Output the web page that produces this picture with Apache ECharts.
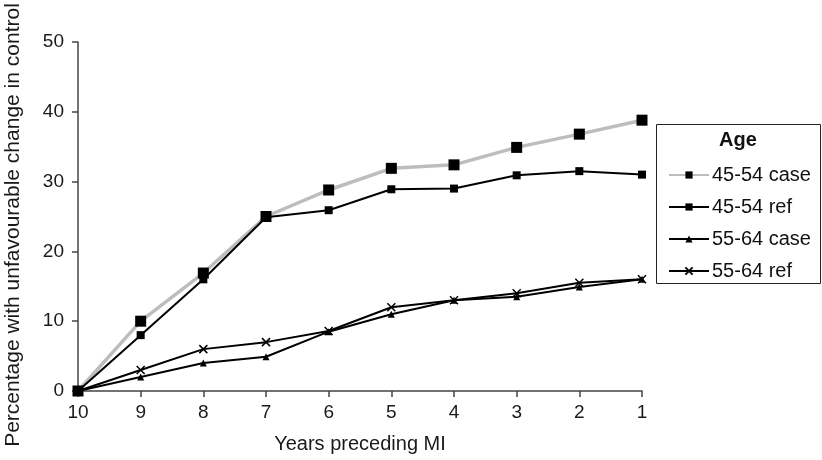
<!DOCTYPE html>
<html>
<head>
<meta charset="utf-8">
<script src="https://cdn.jsdelivr.net/npm/echarts@6/dist/echarts.min.js"></script>
<style>
html, body { margin: 0; padding: 0; background: #fff; }
#chart { width: 822px; height: 460px; }
</style>
</head>
<body>
<div id="chart"></div>
<script>
// Years before myocardial infarction, counted down to 1
const years = ['10', '9', '8', '7', '6', '5', '4', '3', '2', '1'];

// Percentage with an unfavourable change in control, by age group
const case4554 = [0, 10, 16.9, 25, 28.8, 31.9, 32.4, 34.9, 36.8, 38.8];
const ref4554  = [0, 8, 16, 24.9, 25.9, 28.9, 29, 30.9, 31.5, 31];
const case5564 = [0, 2, 4, 4.9, 8.5, 11, 13, 13.5, 14.9, 16];
const ref5564  = [0, 3, 6, 7, 8.6, 12, 13, 14, 15.5, 16];

const seriesNames = ['45-54 case', '45-54 ref', '55-64 case', '55-64 ref'];
const yTicks = { min: 0, max: 50, interval: 10 };

const FONT = 'Liberation Sans, Arial, sans-serif';
const crossPath = 'path://M0,0L10,10M10,0L0,10';

const chart = echarts.init(document.getElementById('chart'));
chart.setOption({
  animation: false,
  backgroundColor: '#fff',
  textStyle: { fontFamily: FONT },
  grid: { left: 78, right: 180, top: 42, bottom: 69, containLabel: false },
  xAxis: {
    type: 'category',
    data: years,
    boundaryGap: false,
    name: 'Years preceding MI',
    nameLocation: 'middle',
    nameGap: 43,
    nameTextStyle: { fontSize: 20, color: '#1a1a1a', fontFamily: FONT },
    axisLine: { lineStyle: { color: '#444', width: 1.5 } },
    axisTick: { show: true, length: 6, alignWithLabel: true, lineStyle: { color: '#444', width: 1.5 } },
    axisLabel: { fontSize: 19, color: '#1a1a1a', margin: 12, fontFamily: FONT },
    splitLine: { show: false }
  },
  yAxis: {
    type: 'value',
    min: yTicks.min,
    max: yTicks.max,
    interval: yTicks.interval,
    axisLine: { show: true, lineStyle: { color: '#444', width: 1.5 } },
    axisTick: { show: true, length: 6, lineStyle: { color: '#444', width: 1.5 } },
    axisLabel: { fontSize: 19, color: '#1a1a1a', margin: 14, fontFamily: FONT },
    splitLine: { show: false }
  },
  legend: {
    orient: 'vertical',
    left: 663,
    top: 160,
    itemWidth: 40,
    itemHeight: 9,
    itemGap: 12,
    textStyle: { fontSize: 20, color: '#111', fontFamily: FONT, padding: [0, 0, 0, -2] },
    data: seriesNames
  },
  graphic: [
    {
      type: 'rect',
      shape: { x: 656.5, y: 124.5, width: 164, height: 159 },
      style: { fill: 'none', stroke: '#222', lineWidth: 1 },
      z: 0
    },
    {
      type: 'text',
      x: 738,
      y: 140,
      style: { text: 'Age', font: 'bold 20px ' + FONT, fill: '#111', align: 'center', verticalAlign: 'middle' }
    },
    {
      // vertical axis title
      type: 'text',
      x: 13,
      y: 225,
      rotation: Math.PI / 2,
      style: {
        text: 'Percentage with unfavourable change in control',
        font: '21px ' + FONT,
        fill: '#1a1a1a',
        align: 'center',
        verticalAlign: 'middle'
      }
    }
  ],
  series: [
    {
      name: seriesNames[0],
      type: 'line',
      data: case4554,
      symbol: 'rect',
      symbolSize: 11,
      lineStyle: { color: '#bdbdbd', width: 3.5 },
      itemStyle: { color: '#000' },
      z: 1
    },
    {
      name: seriesNames[1],
      type: 'line',
      data: ref4554,
      symbol: 'rect',
      symbolSize: 8,
      lineStyle: { color: '#000', width: 2 },
      itemStyle: { color: '#000' },
      z: 2
    },
    {
      name: seriesNames[2],
      type: 'line',
      data: case5564,
      symbol: 'triangle',
      symbolSize: 7,
      lineStyle: { color: '#000', width: 2 },
      itemStyle: { color: '#000' },
      z: 2
    },
    {
      name: seriesNames[3],
      type: 'line',
      data: ref5564,
      symbol: crossPath,
      symbolSize: 8,
      lineStyle: { color: '#000', width: 2 },
      itemStyle: { color: 'none', borderColor: '#000', borderWidth: 1.5 },
      z: 2
    }
  ]
});
</script>
</body>
</html>
